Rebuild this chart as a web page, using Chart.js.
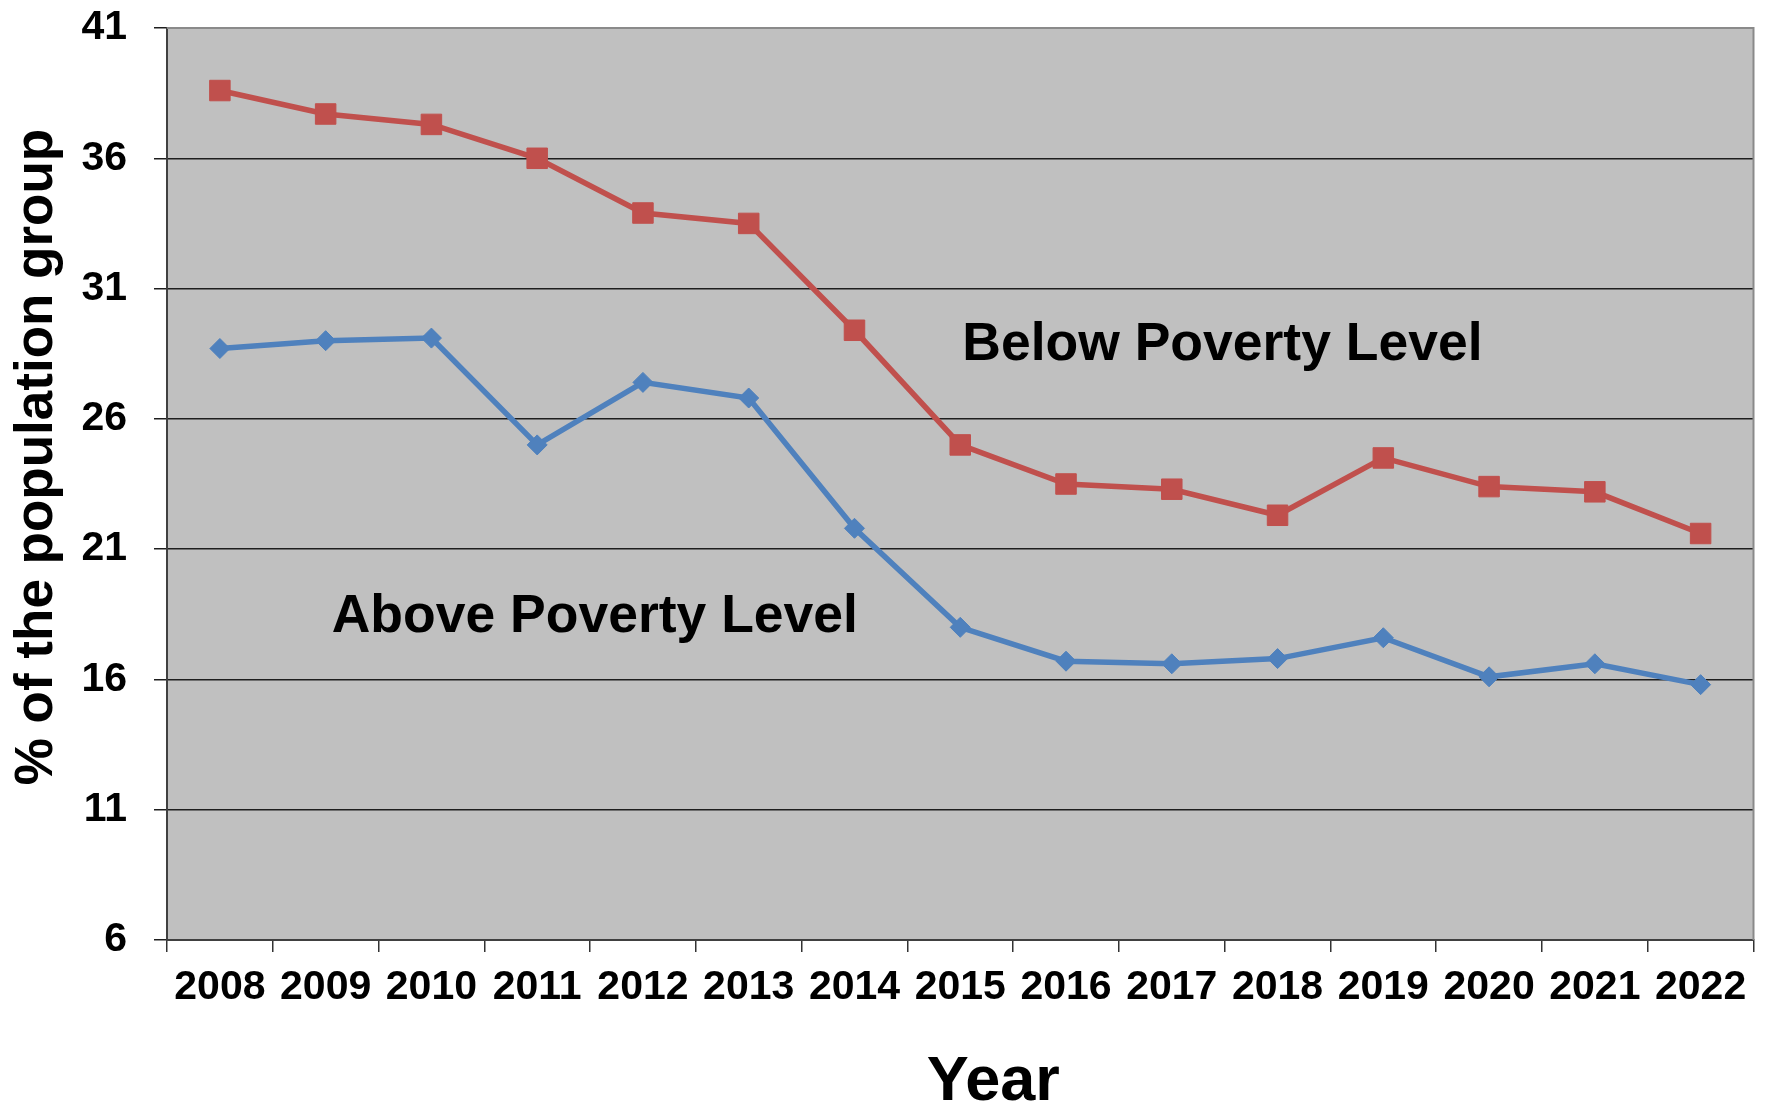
<!DOCTYPE html>
<html>
<head>
<meta charset="utf-8">
<title>Population group by poverty level, 2008–2022</title>
<script src="https://cdn.jsdelivr.net/npm/chart.js@4/dist/chart.umd.min.js"></script>
<style>
  html, body { margin: 0; padding: 0; background: #ffffff; }
  #wrap { width: 1769px; height: 1105px; position: relative; }
  canvas { display: block; }
</style>
</head>
<body>
<div id="wrap"><canvas id="chart" width="1769" height="1105"></canvas></div>
<script>
// Years on the category axis
const years = ['2008', '2009', '2010', '2011', '2012', '2013', '2014', '2015',
               '2016', '2017', '2018', '2019', '2020', '2021', '2022'];

// % of the population group, below poverty level
const belowPoverty = [38.6, 37.7, 37.3, 36.0, 33.9, 33.5, 29.4, 25.0,
                      23.5, 23.3, 22.3, 24.5, 23.4, 23.2, 21.6];

// % of the population group, above poverty level
const abovePoverty = [28.7, 29.0, 29.1, 25.0, 27.4, 26.8, 21.8, 18.0,
                      16.7, 16.6, 16.8, 17.6, 16.1, 16.6, 15.8];

// Value axis range and step
const yMin = 6;
const yMax = 41;
const yStep = 5;

const seriesNames = ['Below Poverty Level', 'Above Poverty Level'];
const yTitle = '% of the population group';
const xTitle = 'Year';

const FONT = '"Liberation Sans", Arial, Helvetica, sans-serif';
const RED = '#c0504d';
const BLUE = '#4f81bd';

// Grey plot background with a light frame on the top and right edges
const plotFrame = {
  id: 'plotFrame',
  beforeDraw(chart) {
    const { ctx, chartArea: a } = chart;
    ctx.save();
    ctx.fillStyle = '#c0c0c0';
    ctx.fillRect(a.left, a.top, a.right - a.left, a.bottom - a.top);
    ctx.restore();
  },
  beforeDatasetsDraw(chart) {
    const { ctx, chartArea: a } = chart;
    ctx.save();
    ctx.strokeStyle = '#8a8a8a';
    ctx.lineWidth = 2;
    ctx.beginPath();
    ctx.moveTo(a.left, a.top);
    ctx.lineTo(a.right, a.top);
    ctx.lineTo(a.right, a.bottom);
    ctx.stroke();
    ctx.restore();
  }
};

// Axis titles and the in-plot series names
const textLayer = {
  id: 'textLayer',
  afterDraw(chart) {
    const { ctx, chartArea: a, scales } = chart;
    const xs = scales.x, ys = scales.y;
    ctx.save();
    ctx.fillStyle = '#000000';

    // series names placed in data space
    ctx.font = 'bold 53.5px ' + FONT;
    ctx.textAlign = 'left';
    ctx.textBaseline = 'alphabetic';
    ctx.fillText(seriesNames[0], xs.getPixelForValue(7) + 2, ys.getPixelForValue(28.26));
    ctx.fillText(seriesNames[1], xs.getPixelForValue(1) + 6, ys.getPixelForValue(17.82));

    // value axis title, rotated
    ctx.font = 'bold 53px ' + FONT;
    ctx.textAlign = 'center';
    ctx.textBaseline = 'middle';
    ctx.translate(37, (a.top + a.bottom) / 2 - 27);
    ctx.rotate(-Math.PI / 2);
    ctx.fillText(yTitle, 0, 0);
    ctx.setTransform(1, 0, 0, 1, 0, 0);

    // category axis title
    ctx.font = 'bold 63px ' + FONT;
    ctx.textAlign = 'center';
    ctx.textBaseline = 'alphabetic';
    ctx.fillText(xTitle, (a.left + a.right) / 2 + 33, 1100);
    ctx.restore();
  }
};

new Chart(document.getElementById('chart'), {
  type: 'line',
  data: {
    labels: years,
    datasets: [
      {
        label: seriesNames[0],
        data: belowPoverty,
        borderColor: RED,
        backgroundColor: RED,
        borderWidth: 5.5,
        pointStyle: 'rect',
        pointRadius: 14.5,
        pointHoverRadius: 14.5,
        pointBorderWidth: 1,
        pointBackgroundColor: RED,
        pointBorderColor: RED,
        tension: 0,
        fill: false
      },
      {
        label: seriesNames[1],
        data: abovePoverty,
        borderColor: BLUE,
        backgroundColor: BLUE,
        borderWidth: 5.5,
        pointStyle: 'rectRot',
        pointRadius: 10,
        pointHoverRadius: 10,
        pointBorderWidth: 1,
        pointBackgroundColor: BLUE,
        pointBorderColor: BLUE,
        tension: 0,
        fill: false
      }
    ]
  },
  options: {
    responsive: false,
    animation: false,
    devicePixelRatio: 1,
    layout: { padding: { top: 28, right: 15, bottom: 0, left: 0 } },
    plugins: {
      legend: { display: false },
      tooltip: { enabled: false },
      title: { display: false }
    },
    scales: {
      x: {
        type: 'category',
        offset: true,
        grid: {
          offset: true,
          drawOnChartArea: false,
          drawTicks: true,
          tickLength: 12,
          color: '#333333',
          lineWidth: 1.5
        },
        border: { display: true, color: '#404040', width: 2 },
        ticks: {
          color: '#000000',
          padding: 15,
          maxRotation: 0,
          autoSkip: false,
          font: { family: FONT, size: 41, weight: 'bold', lineHeight: 1 }
        },
        afterFit(scale) { scale.height = 165; }
      },
      y: {
        type: 'linear',
        min: yMin,
        max: yMax,
        grid: {
          color: '#1e1e1e',
          lineWidth: 1.5,
          drawTicks: true,
          tickLength: 13
        },
        border: { display: true, color: '#404040', width: 2 },
        ticks: {
          stepSize: yStep,
          color: '#000000',
          padding: 27,
          font: { family: FONT, size: 41, weight: 'bold', lineHeight: 1 }
        },
        afterFit(scale) {
          scale.width = 167;
          scale.paddingTop = 0;
          scale.paddingBottom = 0;
        }
      }
    }
  },
  plugins: [plotFrame, textLayer]
});
</script>
</body>
</html>
